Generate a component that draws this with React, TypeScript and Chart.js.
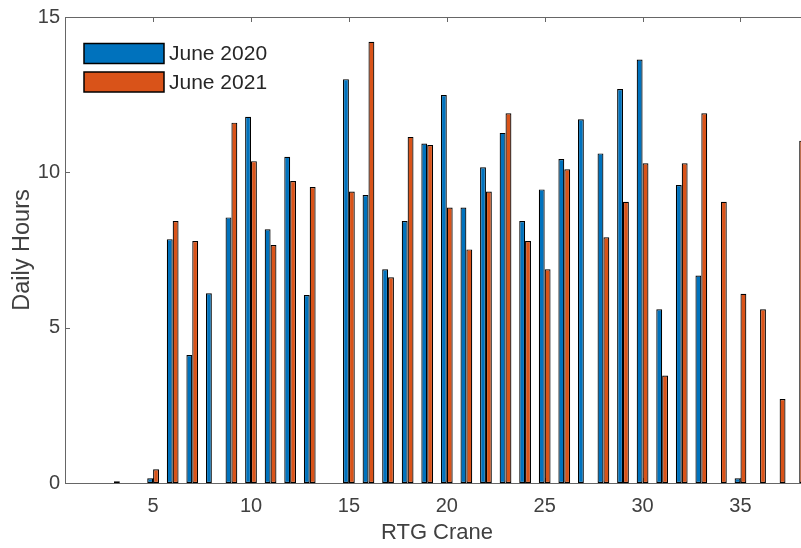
import React, { useEffect, useRef } from "react";
import { Chart, registerables } from "chart.js";

Chart.register(...registerables);

// ---- data ----
const cranes = [
  1, 2, 3, 4, 5, 6, 7, 8, 9, 10, 11, 12, 13, 14, 15, 16, 17, 18, 19, 20,
  21, 22, 23, 24, 25, 26, 27, 28, 29, 30, 31, 32, 33, 34, 35, 36, 37, 38,
];
const hoursJune2020: (number | null)[] = [
  null, null, null, null, 0.15, 7.85, 4.12, 6.11, 8.55, 11.79,
  8.17, 10.5, 6.05, null, 13.0, 9.27, 6.88, 8.43, 10.93, 12.49,
  8.87, 10.16, 11.27, 8.43, 9.45, 10.43, 11.71, 10.61, 12.68, 13.63,
  5.59, 9.59, 6.68, null, 0.15, null, null, null,
];
const hoursJune2021: (number | null)[] = [
  null, null, 0.06, null, 0.44, 8.43, 7.79, null, 11.6, 10.36,
  7.66, 9.72, 9.53, null, 9.38, 14.2, 6.62, 11.14, 10.88, 8.87,
  7.52, 9.38, 11.9, 7.79, 6.88, 10.1, null, 7.91, 9.05, 10.29,
  3.46, 10.29, 11.9, 9.05, 6.09, 5.59, 2.7, 11.02,
];
const seriesLabels = ["June 2020", "June 2021"];
const seriesColors = ["#0072BD", "#D95319"];
const xTicks = [5, 10, 15, 20, 25, 30, 35];
const yTicks = [0, 5, 10, 15];
const xTitle = "RTG Crane";
const yTitle = "Daily Hours";

const FONT = '"Liberation Sans", Arial, Helvetica, sans-serif';
const AXIS_COLOR = "#666666";
const TEXT_COLOR = "#404040";
const LEGEND_TEXT = "#262626";

export default function App() {
  const ref = useRef<HTMLCanvasElement | null>(null);

  useEffect(() => {
    const canvas = ref.current;
    if (!canvas) return;

    const axesPlugin = {
      id: "matlabAxes",
      beforeDatasetsDraw(chart: any) {
        const { ctx, chartArea: a, scales } = chart;
        const x = scales.x;
        const y = scales.y;
        ctx.save();
        ctx.strokeStyle = AXIS_COLOR;
        ctx.lineWidth = 1;
        ctx.beginPath();
        const len = 5;
        for (const t of xTicks) {
          const px = Math.round(x.getPixelForValue(t)) + 0.5;
          ctx.moveTo(px, a.top);
          ctx.lineTo(px, a.top + len);
          ctx.moveTo(px, a.bottom);
          ctx.lineTo(px, a.bottom - len);
        }
        for (const t of yTicks) {
          const py = Math.round(y.getPixelForValue(t)) + 0.5;
          ctx.moveTo(a.left, py);
          ctx.lineTo(a.left + len, py);
          ctx.moveTo(a.right, py);
          ctx.lineTo(a.right - len, py);
        }
        ctx.stroke();
        ctx.restore();
      },
      afterDatasetsDraw(chart: any) {
        const { ctx, chartArea: a } = chart;
        ctx.save();
        ctx.strokeStyle = AXIS_COLOR;
        ctx.lineWidth = 1;
        const l = Math.round(a.left) + 0.5;
        const r = Math.round(a.right) + 0.5;
        const t = Math.round(a.top) + 0.5;
        const b = Math.round(a.bottom) + 0.5;
        ctx.strokeRect(l, t, r - l, b - t);
        ctx.restore();
      },
      afterDraw(chart: any) {
        const { ctx } = chart;
        const ds = chart.data.datasets;
        ctx.save();
        const boxX = 84;
        const boxW = 80;
        const boxH = 20;
        const rowY = [53.5, 82];
        ctx.font = `21px ${FONT}`;
        ctx.textBaseline = "middle";
        ctx.textAlign = "left";
        ds.forEach((d: any, i: number) => {
          const cy = rowY[i];
          ctx.fillStyle = d.backgroundColor;
          ctx.fillRect(boxX, cy - boxH / 2, boxW, boxH);
          ctx.strokeStyle = "#000";
          ctx.lineWidth = 1.5;
          ctx.strokeRect(boxX, cy - boxH / 2, boxW, boxH);
          ctx.fillStyle = LEGEND_TEXT;
          ctx.fillText(d.label, boxX + boxW + 5, cy + 1);
        });
        ctx.restore();
      },
    };

    const mkData = (vals: (number | null)[]) =>
      cranes.map((c, i) => ({ x: c, y: vals[i] }));

    const chart = new Chart(canvas, {
      type: "bar",
      data: {
        datasets: [hoursJune2020, hoursJune2021].map((vals, i) => ({
          label: seriesLabels[i],
          data: mkData(vals) as any,
          backgroundColor: seriesColors[i],
          borderColor: "#000000",
          borderWidth: 1.2,
          borderSkipped: false as any,
          categoryPercentage: 0.6,
          barPercentage: 1.0,
        })),
      },
      options: {
        responsive: false,
        animation: false,
        devicePixelRatio: 1,
        layout: { padding: { top: 16, right: 11, left: 0, bottom: 0 } },
        plugins: {
          legend: { display: false },
          tooltip: { enabled: false },
        },
        scales: {
          x: {
            type: "linear",
            min: 0.5,
            max: 38.5,
            offset: false,
            grid: { display: false, drawTicks: false },
            border: { display: false },
            afterBuildTicks: (s: any) => {
              s.ticks = xTicks.map((v) => ({ value: v }));
            },
            afterFit: (s: any) => {
              s.height = 65;
            },
            ticks: {
              font: { family: FONT, size: 20 },
              color: TEXT_COLOR,
              padding: 11,
              maxRotation: 0,
              autoSkip: false,
            },
            title: {
              display: true,
              text: xTitle,
              font: { family: FONT, size: 22 },
              color: TEXT_COLOR,
              padding: { top: 0, bottom: 2 },
            },
          },
          y: {
            type: "linear",
            min: 0,
            max: 15,
            grid: { display: false, drawTicks: false },
            border: { display: false },
            afterBuildTicks: (s: any) => {
              s.ticks = yTicks.map((v) => ({ value: v }));
            },
            afterFit: (s: any) => {
              s.width = 65;
            },
            ticks: {
              font: { family: FONT, size: 20 },
              color: TEXT_COLOR,
              padding: 5,
            },
            title: {
              display: true,
              text: yTitle,
              font: { family: FONT, size: 23.5 },
              color: TEXT_COLOR,
              padding: { top: 8, bottom: 0 },
            },
          },
        },
      },
      plugins: [axesPlugin],
    });

    return () => chart.destroy();
  }, []);

  return (
    <div
      style={{
        position: "fixed",
        left: 0,
        top: 0,
        width: 801,
        height: 548,
        overflow: "hidden",
        background: "#ffffff",
      }}
    >
      <canvas
        ref={ref}
        width={820}
        height={548}
        style={{ display: "block", width: 820, height: 548 }}
      />
    </div>
  );
}
